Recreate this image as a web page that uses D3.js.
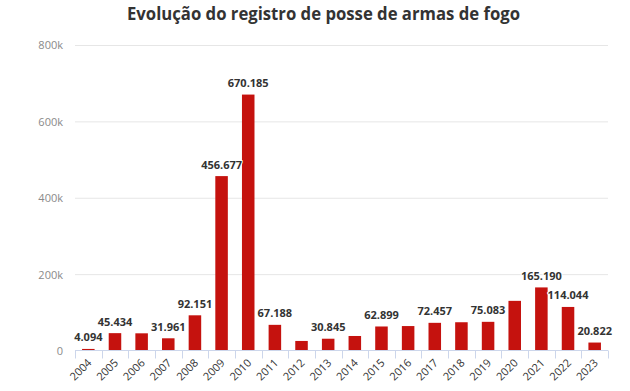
<!DOCTYPE html>
<html><head><meta charset="utf-8">
<script src="https://cdn.jsdelivr.net/npm/d3@7"></script>
<style>
html,body{margin:0;padding:0;background:#fff;}
svg{display:block;font-family:"Open Sans",sans-serif;}
</style></head>
<body>
<svg id="chart" width="630" height="391"></svg>
<script>
const titleText = "Evolução do registro de posse de armas de fogo";
const years = ["2004","2005","2006","2007","2008","2009","2010","2011","2012","2013","2014","2015","2016","2017","2018","2019","2020","2021","2022","2023"];
const values = [4094,45434,45000,31961,92151,456677,670185,67188,25000,30845,38000,62899,64000,72457,74000,75083,130000,165190,114044,20822];
const yTicks = [0,200000,400000,600000,800000];
const yTickLabels = ["0","200k","400k","600k","800k"];

(function () {
const svg = d3.select("#chart");
const plotL = 75, plotR = 608, plotT = 45, plotB = 350.5;

const x = d3.scaleBand().domain(years).range([plotL, plotR]).paddingInner(0.53).paddingOuter(0.265);
const y = d3.scaleLinear().domain([0, 800000]).range([plotB, plotT]);
const fmt = d3.formatLocale({decimal: ",", thousands: ".", grouping: [3], currency: ["", ""]}).format(",");

// title
svg.append("text").attr("x", 323.5).attr("y", 20).attr("text-anchor", "middle")
  .attr("font-size", 18).attr("font-weight", 700).attr("fill", "#333")
  .attr("textLength", 393).attr("lengthAdjust", "spacingAndGlyphs")
  .text(titleText);

// y axis with gridlines
const yAxis = d3.axisLeft(y).tickValues(yTicks)
  .tickFormat((d, i) => yTickLabels[i])
  .tickSize(-(plotR - plotL)).tickPadding(12);
const gy = svg.append("g").attr("transform", `translate(${plotL},0)`).call(yAxis);
gy.select(".domain").remove();
gy.selectAll(".tick line").attr("stroke", "#e6e6e6").attr("stroke-width", 1)
  .filter(d => d === 0).remove();
gy.selectAll(".tick text").attr("fill", "#8a8a8a").attr("font-size", 11)
  .attr("font-family", "Open Sans, sans-serif").attr("dy", "0.36em");

// bars
svg.append("g").selectAll("rect").data(values).join("rect")
  .attr("x", (d, i) => x(years[i]))
  .attr("y", d => y(d))
  .attr("width", x.bandwidth())
  .attr("height", d => plotB - y(d))
  .attr("fill", "#c5120e");

// x axis line and ticks
const step = x.step();
const gx = svg.append("g");
gx.append("line").attr("x1", plotL).attr("x2", plotR).attr("y1", plotB).attr("y2", plotB)
  .attr("stroke", "#ccd6eb").attr("stroke-width", 1);
gx.selectAll("line.tk").data(d3.range(years.length + 1)).join("line").attr("class", "tk")
  .attr("x1", i => Math.round(plotL + i * step) + 0.5).attr("x2", i => Math.round(plotL + i * step) + 0.5)
  .attr("y1", plotB).attr("y2", plotB + 8)
  .attr("stroke", "#ccd6eb").attr("stroke-width", 1);

// x labels via d3 axis (rotated)
const xAxis = d3.axisBottom(x).tickSize(0).tickPadding(0);
const gxl = svg.append("g").attr("transform", `translate(0,${plotB})`).call(xAxis);
gxl.select(".domain").remove();
gxl.selectAll(".tick text")
  .attr("font-size", 11).attr("font-family", "Open Sans, sans-serif").attr("fill", "#333")
  .attr("text-anchor", "end").attr("y", 0).attr("dy", 0)
  .attr("transform", "translate(4,13) rotate(-45)");

// data labels
const lg = svg.append("g");
const labels = lg.selectAll("text").data(values).join("text")
  .attr("x", (d, i) => x(years[i]) + x.bandwidth() / 2)
  .attr("y", d => y(d) - 7.5)
  .attr("text-anchor", "middle")
  .attr("font-size", 11).attr("font-weight", 700).attr("fill", "#333")
  .attr("stroke", "#fff").attr("stroke-width", 2).attr("paint-order", "stroke")
  .attr("stroke-linejoin", "round")
  .text(d => fmt(d));

// hide overlapping labels (higher bars win)
const boxes = [];
labels.each(function(d, i) {
  const w = this.getComputedTextLength();
  const cx = x(years[i]) + x.bandwidth() / 2;
  const cy = y(d) - 11.5;
  boxes.push({i, v: d, x1: cx - w / 2 + 3, x2: cx + w / 2 - 3, y1: cy - 8.75, y2: cy + 8.75, node: this});
});
const order = boxes.slice().sort((a, b) => b.v - a.v);
const shown = [];
order.forEach(b => {
  const hit = shown.some(s => !(b.x1 >= s.x2 || b.x2 <= s.x1 || b.y1 >= s.y2 || b.y2 <= s.y1));
  if (hit) d3.select(b.node).attr("display", "none"); else shown.push(b);
});
})();
</script>
</body></html>
